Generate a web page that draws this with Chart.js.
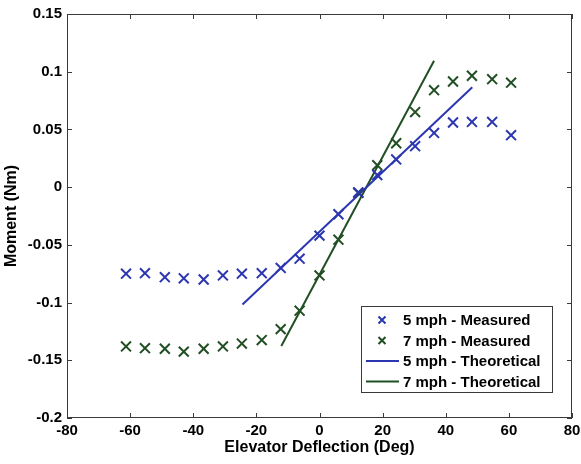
<!DOCTYPE html>
<html>
<head>
<meta charset="utf-8">
<script src="https://cdn.jsdelivr.net/npm/chart.js@4.4.1/dist/chart.umd.min.js"></script>
<style>
  html, body { margin: 0; padding: 0; background: #fff; }
  #wrap { width: 581px; height: 464px; }
</style>
</head>
<body>
<div id="wrap"><canvas id="momentChart" width="581" height="464"></canvas></div>
<script>
// elevator deflection (deg) of each measurement
const deflection = [-61.3, -55.3, -49, -43, -36.7, -30.6, -24.6, -18.3, -12.3, -6.3, 0,
                    6, 12.3, 18.3, 24.3, 30.3, 36.3, 42.3, 48.3, 54.7, 60.7];
const measured5 = [-0.075, -0.0745, -0.078, -0.079, -0.080, -0.0765, -0.075, -0.0745, -0.070, -0.062, -0.042,
                   -0.0235, -0.0045, 0.0105, 0.024, 0.0355, 0.047, 0.056, 0.0565, 0.0565, 0.045];
const measured7 = [-0.138, -0.1395, -0.140, -0.1425, -0.140, -0.138, -0.1355, -0.1325, -0.123, -0.107, -0.0765,
                   -0.0455, -0.005, 0.019, 0.038, 0.065, 0.084, 0.0915, 0.0965, 0.0935, 0.0905];
// theoretical lines (end points)
const theory5X = [-24.4, 48.4];
const theory5Y = [-0.1017, 0.0865];
const theory7X = [-12.1, 36.3];
const theory7Y = [-0.1377, 0.1095];

const xTicks = [-80, -60, -40, -20, 0, 20, 40, 60, 80];
const yTicks = [-0.2, -0.15, -0.1, -0.05, 0, 0.05, 0.1, 0.15];

const BLUE = '#2b36b0';
const GREEN = '#214f24';
const FONT = '"Liberation Sans", Arial, sans-serif';

function pts(xs, ys) {
    return xs.map(function (x, i) { return { x: x, y: ys[i] }; });
}

// MATLAB style box with inward ticks
const frameTicks = {
    id: 'frameTicks',
    afterDatasetsDraw(chart) {
        const ctx = chart.ctx, a = chart.chartArea;
        const x = chart.scales.x, y = chart.scales.y;
        const len = 5;
        ctx.save();
        ctx.strokeStyle = '#3a3a3a';
        ctx.lineWidth = 1;
        ctx.strokeRect(Math.round(a.left) + 0.5, Math.round(a.top) + 0.5,
            Math.round(a.width) - 1, Math.round(a.height) - 1);
        ctx.beginPath();
        xTicks.forEach(function (v) {
            const px = Math.round(x.getPixelForValue(v)) + 0.5;
            ctx.moveTo(px, a.bottom); ctx.lineTo(px, a.bottom - len);
            ctx.moveTo(px, a.top); ctx.lineTo(px, a.top + len);
        });
        yTicks.forEach(function (v) {
            const py = Math.round(y.getPixelForValue(v)) + 0.5;
            ctx.moveTo(a.left, py); ctx.lineTo(a.left + len, py);
            ctx.moveTo(a.right, py); ctx.lineTo(a.right - len, py);
        });
        ctx.stroke();
        ctx.restore();
    }
};

// legend box in the lower right corner
const boxLegend = {
    id: 'boxLegend',
    afterDraw(chart) {
        const ctx = chart.ctx, a = chart.chartArea;
        const w = 191, h = 86;
        const left = a.right - 20 - w, top = a.bottom - 26 - h;
        ctx.save();
        ctx.fillStyle = '#fff';
        ctx.fillRect(left, top, w, h);
        ctx.strokeStyle = '#3a3a3a';
        ctx.lineWidth = 1;
        ctx.strokeRect(Math.round(left) + 0.5, Math.round(top) + 0.5, w, h);
        ctx.font = 'bold 15px ' + FONT;
        ctx.textBaseline = 'middle';
        chart.data.datasets.forEach(function (ds, i) {
            const cy = top + 14 + i * 20.5;
            ctx.strokeStyle = ds.borderColor;
            ctx.lineWidth = 2;
            ctx.beginPath();
            if (ds.showLine) {
                ctx.moveTo(left + 5, cy); ctx.lineTo(left + 38, cy);
            } else {
                const r = 3.5;
                ctx.moveTo(left + 21 - r, cy - r); ctx.lineTo(left + 21 + r, cy + r);
                ctx.moveTo(left + 21 - r, cy + r); ctx.lineTo(left + 21 + r, cy - r);
            }
            ctx.stroke();
            ctx.fillStyle = '#000';
            ctx.fillText(ds.label, left + 42, cy + 1);
        });
        ctx.restore();
    }
};

const ctx = document.getElementById('momentChart').getContext('2d');
new Chart(ctx, {
    type: 'scatter',
    data: {
        datasets: [{
            label: '5 mph - Measured',
            data: pts(deflection, measured5),
            showLine: false,
            pointStyle: 'crossRot',
            pointRadius: 7,
            pointBorderWidth: 2,
            borderColor: BLUE,
            backgroundColor: BLUE
        }, {
            label: '7 mph - Measured',
            data: pts(deflection, measured7),
            showLine: false,
            pointStyle: 'crossRot',
            pointRadius: 7,
            pointBorderWidth: 2,
            borderColor: GREEN,
            backgroundColor: GREEN
        }, {
            label: '5 mph - Theoretical',
            data: pts(theory5X, theory5Y),
            showLine: true,
            pointRadius: 0,
            borderWidth: 2,
            borderColor: BLUE
        }, {
            label: '7 mph - Theoretical',
            data: pts(theory7X, theory7Y),
            showLine: true,
            pointRadius: 0,
            borderWidth: 2,
            borderColor: GREEN
        }]
    },
    options: {
        responsive: false,
        animation: false,
        devicePixelRatio: 1,
        layout: { padding: { top: 13, right: 0, left: 0, bottom: 7 } },
        plugins: {
            legend: { display: false },
            tooltip: { enabled: false }
        },
        scales: {
            x: {
                type: 'linear',
                min: -80,
                max: 80,
                afterBuildTicks: function (axis) {
                    axis.ticks = xTicks.map(function (v) { return { value: v }; });
                },
                afterFit: function (axis) {
                    axis.height = 39;
                    axis.paddingRight = 9;
                },
                grid: { display: false, tickLength: 0 },
                border: { display: false },
                ticks: {
                    color: '#000',
                    padding: 4,
                    font: { family: FONT, size: 15, weight: 'bold' },
                    maxRotation: 0
                },
                title: {
                    display: true,
                    text: 'Elevator Deflection (Deg)',
                    color: '#000',
                    padding: { top: 0, bottom: 0 },
                    font: { family: FONT, size: 16, weight: 'bold' }
                }
            },
            y: {
                type: 'linear',
                min: -0.2,
                max: 0.15,
                afterBuildTicks: function (axis) {
                    axis.ticks = yTicks.map(function (v) { return { value: v }; });
                },
                afterFit: function (axis) { axis.width = 67; },
                grid: { display: false, tickLength: 0 },
                border: { display: false },
                ticks: {
                    color: '#000',
                    padding: 5,
                    font: { family: FONT, size: 15, weight: 'bold' },
                    callback: function (v) { return String(Number(v.toFixed(2))); }
                },
                title: {
                    display: true,
                    text: 'Moment (Nm)',
                    color: '#000',
                    padding: { top: 2, bottom: 0 },
                    font: { family: FONT, size: 16, weight: 'bold' }
                }
            }
        }
    },
    plugins: [frameTicks, boxLegend]
});
</script>
</body>
</html>
